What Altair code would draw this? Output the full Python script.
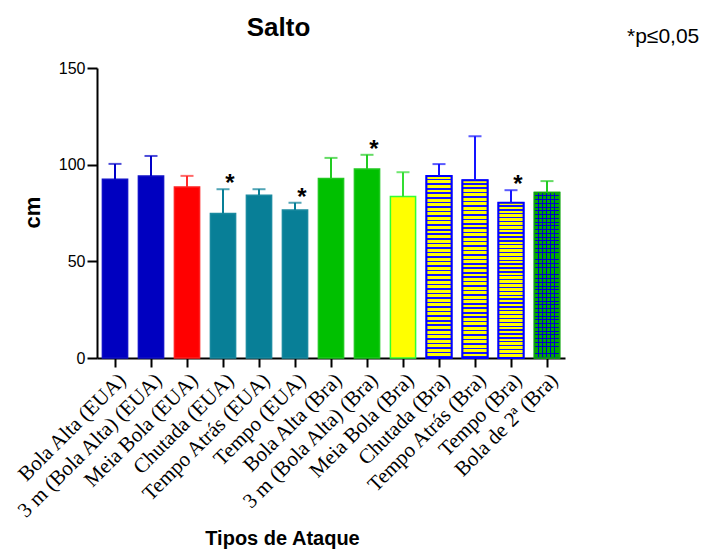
import altair as alt
import pandas as pd

categories = [
    "Bola Alta (EUA)", "3 m (Bola Alta) (EUA)", "Meia Bola (EUA)", "Chutada (EUA)",
    "Tempo Atrás (EUA)", "Tempo (EUA)", "Bola Alta (Bra)", "3 m (Bola Alta) (Bra)",
    "Meia Bola (Bra)", "Chutada (Bra)", "Tempo Atrás (Bra)", "Tempo (Bra)", "Bola de 2ª (Bra)",
]
means = [92.5, 94.1, 88.4, 74.8, 84.2, 76.5, 92.9, 97.7, 83.5, 94.2, 92.0, 80.3, 85.6]
sd_upper = [7.9, 10.4, 5.8, 12.5, 3.1, 3.8, 10.6, 7.4, 12.6, 6.1, 22.7, 6.5, 5.9]
significant = [False, False, False, True, False, True, False, True, False, False, False, True, False]
patterns = ["solid"] * 9 + ["brick"] * 3 + ["check"]

fill_colors = ["#0000c0", "#0000c0", "#ff0000", "#087f97", "#087f97", "#087f97",
               "#00c000", "#00c000", "#ffff00", "#ffff00", "#ffff00", "#ffff00", "#00a800"]
stroke_colors = ["#1010c8", "#1010c8", "#ff2020", "#1a8aa0", "#1a8aa0", "#1a8aa0",
                 "#20c820", "#20c820", "#33ff33", "#0000ff", "#0000ff", "#0000ff", "#10b010"]
err_colors = ["#0000c8", "#0000c8", "#ff2a2a", "#087f97", "#087f97", "#087f97",
              "#22cc22", "#22cc22", "#33dd33", "#1414ff", "#1414ff", "#1414ff", "#22cc22"]

title_text = "Salto"
note_text = "*p≤0,05"
x_title = "Tipos de Ataque"
y_title = "cm"

df = pd.DataFrame({
    "cat": categories,
    "mean": means,
    "top": [m + s for m, s in zip(means, sd_upper)],
    "sig": significant,
    "pattern": patterns,
})


def stripes(n, c_a, c_b, frac_b, along_y=True):
    stops = []
    for i in range(n):
        s = i / n
        m = (i + 1 - frac_b) / n
        e = (i + 1) / n
        stops += [{"offset": s, "color": c_a}, {"offset": m, "color": c_a},
                  {"offset": m, "color": c_b}, {"offset": e, "color": c_b}]
    return {"gradient": "linear", "x1": 0, "y1": 0,
            "x2": 0 if along_y else 1, "y2": 1 if along_y else 0, "stops": stops}


brick = stripes(40, "#ffff00", "#1414ff", 0.36, True)
check_h = stripes(44, "transparent", "#0000cc", 0.25, True)
check_v = stripes(6, "transparent", "#0000cc", 0.25, False)

x_enc = alt.X("cat:N", sort=categories, title=x_title,
              scale=alt.Scale(paddingInner=0.3, paddingOuter=0.15),
              axis=alt.Axis(labelAngle=-45, labelFont="Liberation Serif", labelFontSize=21,
                            labelColor="black", labelPadding=2, labelLimit=400,
                            labelOverlap=False, tickSize=9, tickWidth=2, tickColor="black",
                            domainColor="black", domainWidth=2,
                            titleFont="Liberation Sans", titleFontSize=20,
                            titleFontWeight="bold", titleColor="black",
                            titleX=185, titleY=186, titleAlign="center",
                            titleBaseline="alphabetic"))
y_scale = alt.Scale(domain=[0, 150], nice=False)
y_axis = alt.Axis(values=[0, 50, 100, 150], grid=False, labelFont="Liberation Sans",
                  labelFontSize=16, labelColor="black", labelPadding=2, tickSize=10,
                  tickWidth=2, tickColor="black", domainColor="black", domainWidth=2,
                  titleFont="Liberation Sans", titleFontSize=22, titleFontWeight="bold",
                  titleColor="black", titleX=-58, titleY=144, titleAlign="center",
                  titleBaseline="alphabetic", titleAngle=270)

base = alt.Chart(df)

bars = base.mark_bar(strokeWidth=1.5).encode(
    x=x_enc,
    y=alt.Y("mean:Q", scale=y_scale, axis=y_axis, title=y_title),
    fill=alt.Fill("cat:N", sort=categories,
                  scale=alt.Scale(domain=categories, range=fill_colors), legend=None),
    stroke=alt.Stroke("cat:N", sort=categories,
                      scale=alt.Scale(domain=categories, range=stroke_colors), legend=None),
)

brick_layer = base.transform_filter(alt.datum.pattern == "brick").mark_bar(
    fill=brick, stroke="#0000ff", strokeWidth=2
).encode(x=alt.X("cat:N", sort=categories, title=x_title),
         y=alt.Y("mean:Q", title=y_title))

check_layer_h = base.transform_filter(alt.datum.pattern == "check").mark_bar(
    fill=check_h, strokeWidth=0
).encode(x=alt.X("cat:N", sort=categories, title=x_title),
         y=alt.Y("mean:Q", title=y_title))
check_layer_v = base.transform_filter(alt.datum.pattern == "check").mark_bar(
    fill=check_v, stroke="#10a010", strokeWidth=1.5
).encode(x=alt.X("cat:N", sort=categories, title=x_title),
         y=alt.Y("mean:Q", title=y_title))

err_color = alt.Color("cat:N", sort=categories,
                      scale=alt.Scale(domain=categories, range=err_colors), legend=None)

err_rule = base.mark_rule(strokeWidth=2).encode(
    x=alt.X("cat:N", sort=categories, title=x_title),
    y=alt.Y("mean:Q", title=y_title),
    y2="top:Q",
    color=err_color,
)
err_cap = base.mark_tick(thickness=2, size=13).encode(
    x=alt.X("cat:N", sort=categories, title=x_title),
    y=alt.Y("top:Q", title=y_title),
    color=err_color,
)
stars = base.transform_filter(alt.datum.sig).mark_text(
    text="*", font="Liberation Sans", fontSize=24, fontWeight="bold", color="black",
    baseline="alphabetic", dx=7, dy=2
).encode(
    x=alt.X("cat:N", sort=categories, title=x_title),
    y=alt.Y("top:Q", title=y_title),
)

note = alt.Chart(pd.DataFrame({"t": [note_text]})).mark_text(
    font="Liberation Sans", fontSize=21, color="black", align="left", baseline="alphabetic"
).encode(text="t:N", x=alt.value(530), y=alt.value(-25))

chart = alt.layer(
    bars, brick_layer, check_layer_h, check_layer_v, err_rule, err_cap, stars, note
).properties(
    width=468,
    height=290,
    title=alt.TitleParams(title_text, anchor="start", dx=234, dy=29, font="Liberation Sans",
                          fontSize=26, fontWeight="bold", color="black", offset=14),
    autosize=alt.AutoSizeParams(type="none"),
    padding={"left": 89, "top": 60, "right": 139, "bottom": 191},
).configure_view(stroke=None)

chart.save("out.html", embed_options={"renderer": "svg", "actions": False})
